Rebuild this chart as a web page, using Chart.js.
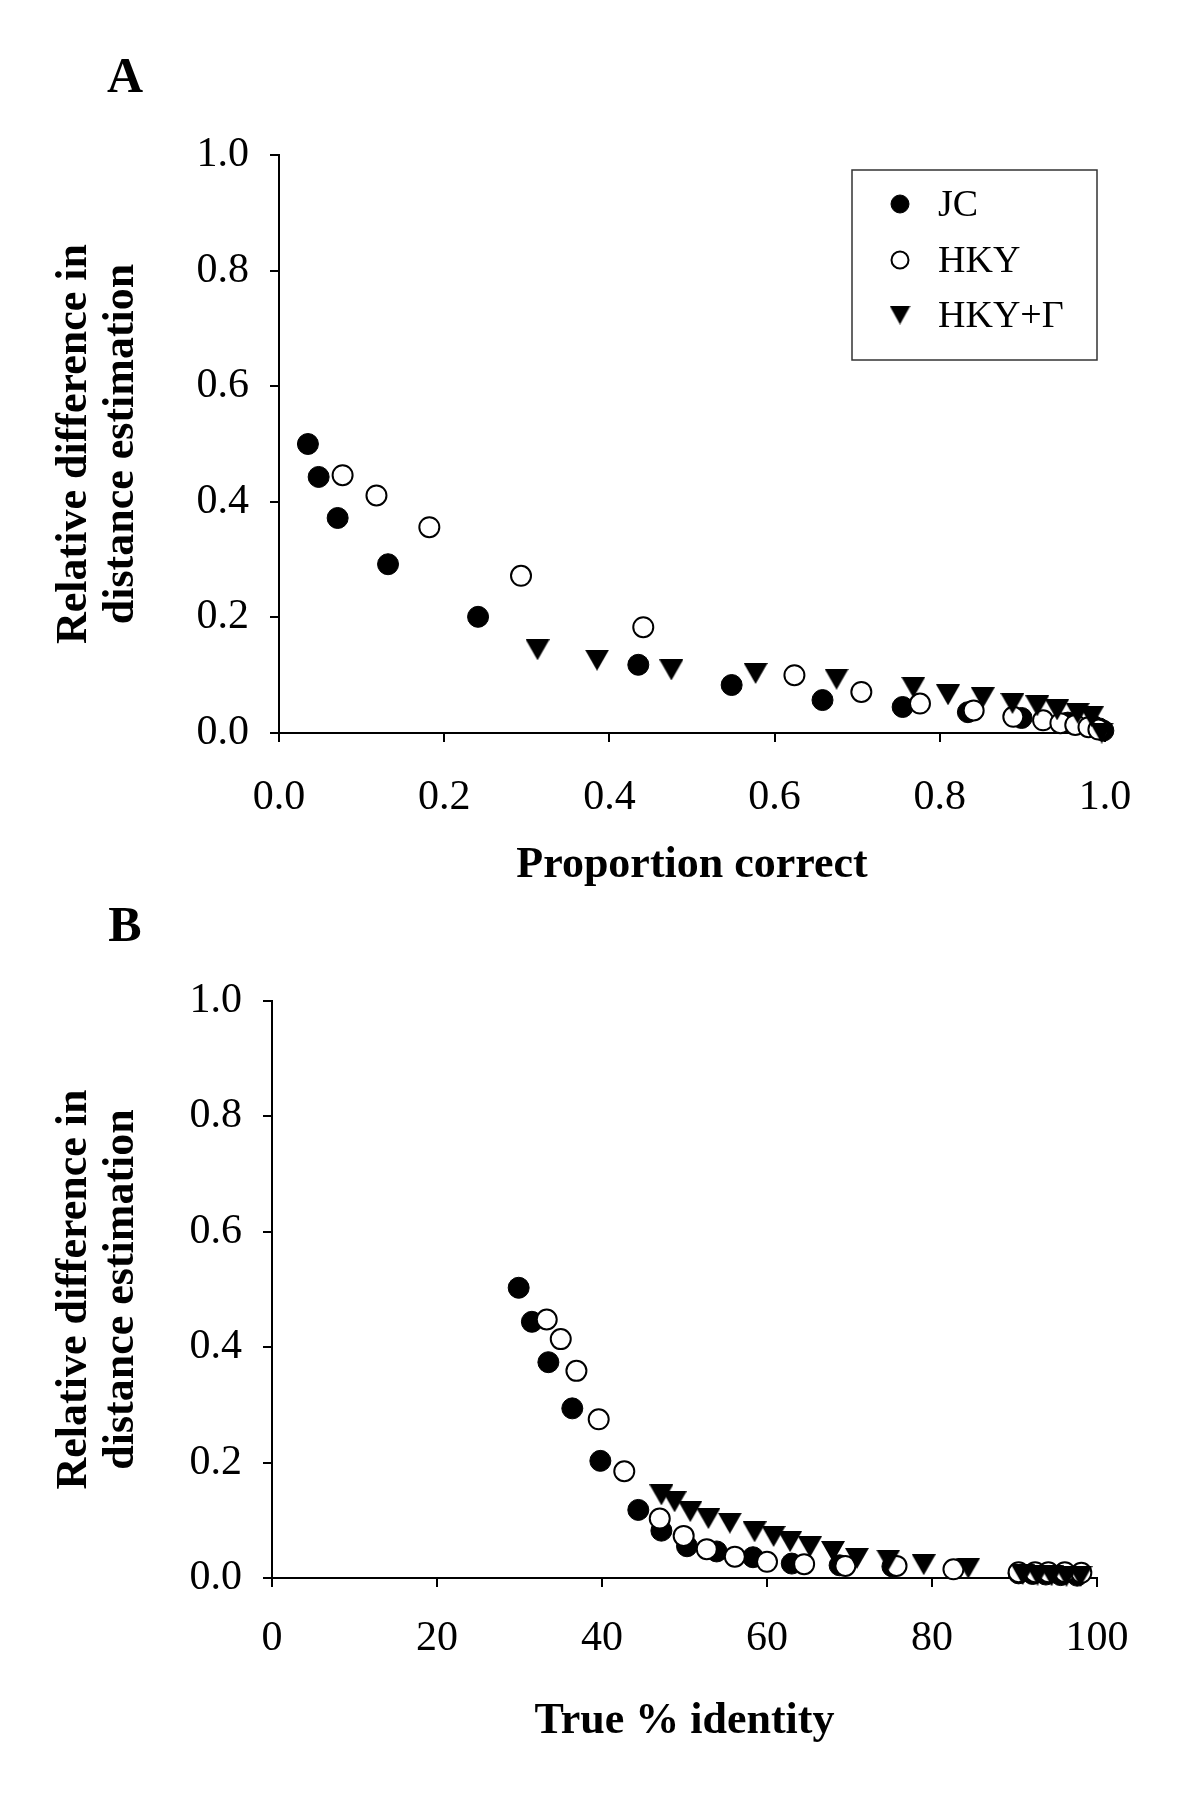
<!DOCTYPE html>
<html>
<head>
<meta charset="utf-8">
<script src="https://cdn.jsdelivr.net/npm/chart.js@4"></script>
<style>
  html, body { margin: 0; padding: 0; background: #fff; }
  #wrap { position: relative; width: 1200px; height: 1812px; }
  canvas { position: absolute; left: 0; }
</style>
</head>
<body>
<div id="wrap">
  <canvas id="chartA" width="1200" height="906" style="top:0"></canvas>
  <canvas id="chartB" width="1200" height="906" style="top:906px"></canvas>
</div>
<script>
// series names (legend order)
const seriesNames = ['JC', 'HKY', 'HKY+\u0393'];

// Panel A: proportion correct vs relative difference
const jcA_x = [0.035, 0.048, 0.071, 0.132, 0.241, 0.435, 0.548, 0.658, 0.755, 0.834, 0.899, 0.955, 0.985, 0.993, 0.998];
const jcA_y = [0.500, 0.443, 0.372, 0.292, 0.201, 0.118, 0.083, 0.057, 0.045, 0.036, 0.026, 0.018, 0.013, 0.008, 0.004];
const hkyA_x = [0.077, 0.118, 0.182, 0.293, 0.441, 0.624, 0.705, 0.776, 0.841, 0.889, 0.925, 0.946, 0.964, 0.980, 0.992];
const hkyA_y = [0.446, 0.411, 0.356, 0.272, 0.183, 0.100, 0.071, 0.051, 0.039, 0.028, 0.022, 0.017, 0.014, 0.010, 0.006];
const gamA_x = [0.313, 0.385, 0.475, 0.577, 0.675, 0.768, 0.810, 0.852, 0.888, 0.918, 0.942, 0.967, 0.984, 0.996];
const gamA_y = [0.144, 0.126, 0.109, 0.103, 0.093, 0.079, 0.066, 0.061, 0.051, 0.047, 0.040, 0.034, 0.028, 0.000];

// Panel B: true % identity vs relative difference
const jcB_x = [29.9, 31.5, 33.5, 36.4, 39.8, 44.4, 47.2, 50.3, 53.9, 58.3, 63.0, 68.8, 75.2, 90.5, 92.2, 93.8, 95.6, 97.6];
const jcB_y = [0.503, 0.444, 0.374, 0.294, 0.203, 0.118, 0.082, 0.055, 0.046, 0.036, 0.025, 0.022, 0.020, 0.008, 0.007, 0.006, 0.005, 0.004];
const hkyB_x = [33.3, 35.0, 36.9, 39.6, 42.7, 47.0, 49.9, 52.7, 56.1, 60.0, 64.5, 69.5, 75.7, 82.6, 90.5, 92.5, 94.1, 96.1, 98.1];
const hkyB_y = [0.448, 0.414, 0.359, 0.275, 0.185, 0.103, 0.073, 0.050, 0.037, 0.028, 0.024, 0.021, 0.021, 0.015, 0.010, 0.010, 0.010, 0.010, 0.009];
const gamB_x = [47.2, 48.8, 50.7, 52.9, 55.5, 58.5, 60.8, 62.8, 65.2, 68.0, 70.9, 74.7, 79.0, 84.4, 91.0, 92.8, 94.5, 96.3, 98.0];
const gamB_y = [0.144, 0.132, 0.115, 0.103, 0.095, 0.080, 0.072, 0.063, 0.054, 0.046, 0.034, 0.031, 0.023, 0.017, 0.006, 0.005, 0.004, 0.003, 0.003];

const yTitle = ['Relative difference in', 'distance estimation'];
const SERIF = "'Liberation Serif', 'Times New Roman', serif";

// downward triangle marker, centred on its box like the original
function makeTriangle(w, h) {
  const c = document.createElement('canvas');
  c.width = w; c.height = h;
  const g = c.getContext('2d');
  g.fillStyle = '#000';
  g.beginPath();
  g.moveTo(0, 0); g.lineTo(w, 0); g.lineTo(w / 2, h); g.closePath();
  g.fill();
  return c;
}
const triBig = makeTriangle(24, 21);
const triSmall = makeTriangle(21, 19);

const pts = (xs, ys) => xs.map((x, i) => ({ x, y: ys[i] }));

function datasets(jx, jy, hx, hy, gx, gy) {
  return [
    { label: seriesNames[0], data: pts(jx, jy), order: 2, clip: false,
      pointStyle: 'circle', pointRadius: 10.5, backgroundColor: '#000', borderColor: '#000', borderWidth: 1 },
    { label: seriesNames[1], data: pts(hx, hy), order: 1, clip: false,
      pointStyle: 'circle', pointRadius: 10, backgroundColor: '#fff', borderColor: '#000', borderWidth: 2 },
    { label: seriesNames[2], data: pts(gx, gy), order: 0, clip: false,
      pointStyle: triBig, pointRadius: 12, backgroundColor: '#000', borderColor: '#000', borderWidth: 0 }
  ];
}

function panelLabel(text) {
  return {
    id: 'panelLabel' + text,
    afterDraw(chart) {
      const ctx = chart.ctx;
      ctx.save();
      ctx.font = 'bold 50px ' + SERIF;
      ctx.fillStyle = '#000';
      ctx.textAlign = 'center';
      ctx.textBaseline = 'middle';
      ctx.fillText(text, 125, text === 'A' ? 79 : 22);
      ctx.restore();
    }
  };
}

const boxLegend = {
  id: 'boxLegend',
  afterDraw(chart) {
    const ctx = chart.ctx;
    ctx.save();
    ctx.strokeStyle = '#333';
    ctx.lineWidth = 1.5;
    ctx.strokeRect(852, 170, 245, 190);
    const rows = [204, 260, 315];
    const styles = [
      { pointStyle: 'circle', radius: 9, fill: '#000', bw: 1 },
      { pointStyle: 'circle', radius: 8.5, fill: '#fff', bw: 2 },
      { pointStyle: triSmall, radius: 10, fill: '#000', bw: 0 }
    ];
    styles.forEach((s, i) => {
      ctx.fillStyle = s.fill;
      ctx.strokeStyle = '#000';
      ctx.lineWidth = s.bw;
      Chart.helpers.drawPoint(ctx, { pointStyle: s.pointStyle, radius: s.radius, borderWidth: s.bw, rotation: 0 }, 900, rows[i]);
    });
    ctx.fillStyle = '#000';
    ctx.font = '38px ' + SERIF;
    ctx.textAlign = 'left';
    ctx.textBaseline = 'middle';
    seriesNames.forEach((n, i) => ctx.fillText(n, 938, rows[i] + 2));
    ctx.restore();
  }
};

function axisCommon() {
  return {
    grid: { display: true, drawOnChartArea: false, drawTicks: true, tickLength: 9, color: '#000', lineWidth: 2 },
    border: { display: true, color: '#000', width: 2 }
  };
}

function makeChart(id, data, xOpts, yOpts, layoutPad, plugins) {
  return new Chart(document.getElementById(id), {
    type: 'scatter',
    data: { datasets: data },
    options: {
      responsive: false,
      devicePixelRatio: 1,
      animation: false,
      layout: { padding: layoutPad },
      plugins: { legend: { display: false }, tooltip: { enabled: false } },
      scales: { x: xOpts, y: yOpts }
    },
    plugins
  });
}

// Panel A
makeChart('chartA',
  datasets(jcA_x, jcA_y, hkyA_x, hkyA_y, gamA_x, gamA_y),
  Object.assign(axisCommon(), {
    min: 0, max: 1,
    afterFit: s => { s.height = 173; },
    ticks: { stepSize: 0.2, padding: 31, color: '#000', font: { family: SERIF, size: 42 },
             callback: v => v.toFixed(1) },
    title: { display: true, text: 'Proportion correct', color: '#000', padding: { top: 0, bottom: 14 },
             font: { family: SERIF, size: 44, weight: 'bold', lineHeight: 1.2 } }
  }),
  Object.assign(axisCommon(), {
    min: 0, max: 1,
    afterFit: s => { s.width = 279; },
    ticks: { stepSize: 0.2, padding: 21, color: '#000', font: { family: SERIF, size: 42 },
             callback: v => v.toFixed(1) },
    title: { display: true, text: yTitle, color: '#000', padding: { top: 52, bottom: 0 },
             font: { family: SERIF, size: 44, weight: 'bold', lineHeight: 1.05 } }
  }),
  { top: 155, right: 95, left: 0, bottom: 0 },
  [panelLabel('A'), boxLegend]
);

// Panel B
makeChart('chartB',
  datasets(jcB_x, jcB_y, hkyB_x, hkyB_y, gamB_x, gamB_y),
  Object.assign(axisCommon(), {
    min: 0, max: 100,
    afterFit: s => { s.height = 234; },
    ticks: { stepSize: 20, padding: 27, color: '#000', font: { family: SERIF, size: 42 } },
    title: { display: true, text: 'True % identity', color: '#000', padding: { top: 0, bottom: 64 },
             font: { family: SERIF, size: 44, weight: 'bold', lineHeight: 1.2 } }
  }),
  Object.assign(axisCommon(), {
    min: 0, max: 1,
    afterFit: s => { s.width = 272; },
    ticks: { stepSize: 0.2, padding: 21, color: '#000', font: { family: SERIF, size: 42 },
             callback: v => v.toFixed(1) },
    title: { display: true, text: yTitle, color: '#000', padding: { top: 52, bottom: 0 },
             font: { family: SERIF, size: 44, weight: 'bold', lineHeight: 1.05 } }
  }),
  { top: 95, right: 103, left: 0, bottom: 0 },
  [panelLabel('B')]
);
</script>
</body>
</html>
